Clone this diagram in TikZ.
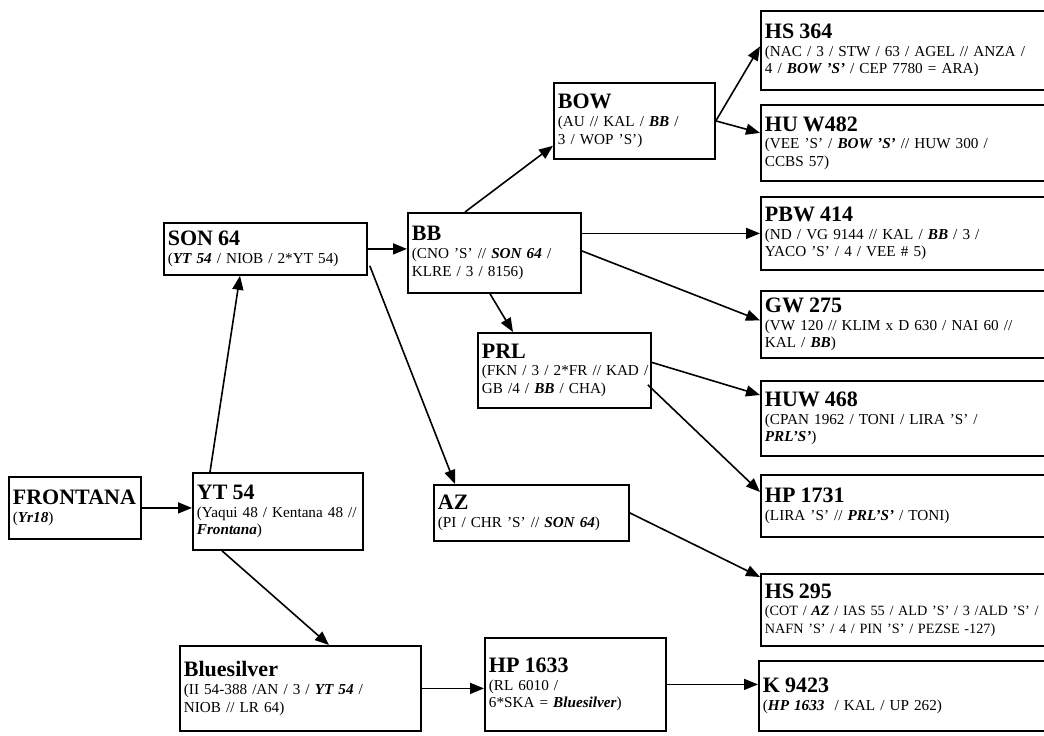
\documentclass[tikz,border=0pt]{standalone}
\usepackage{fontspec}
\setmainfont{Liberation Serif}[WordSpace=0.85]
\usetikzlibrary{arrows.meta,calc}

\newcommand{\gtitle}[1]{{\fontsize{11}{11}\selectfont\bfseries #1}}
\newcommand{\gb}[1]{\textbf{\textit{#1}}}

\tikzset{
  gbox/.style={draw, line width=0.9pt, anchor=north west, align=left,
    inner xsep=2pt, inner ysep=3pt, font=\fontsize{7.6}{8.8}\selectfont},
  garrow/.style={line width=0.8pt, -{Triangle[length=7pt,width=5.5pt]}},
}

\begin{document}
\begin{tikzpicture}[x=0.5pt, y=-0.5pt]
        \useasboundingbox (0,0) rectangle (1044,735);

        % left part
        \node[gbox, minimum width=66pt, minimum height=31pt, text width=62pt] (frontana) at (8,476)
                {\gtitle{FRONTANA}\\(\gb{Yr18})};
        \node[gbox, minimum width=85pt, minimum height=38.5pt, text width=81pt] (yt54) at (192,472)
                {\gtitle{YT 54}\\(Yaqui 48 / Kentana 48 //\\\gb{Frontana})};
        \node[gbox, minimum width=101.5pt, minimum height=26pt, text width=97.5pt] (son64) at (163,222)
                {\gtitle{SON 64}\\(\gb{YT 54} / NIOB / 2*YT 54)};
        \node[gbox, minimum width=120.5pt, minimum height=42.5pt, text width=116.5pt] (bluesilver) at (179,645)
                {\gtitle{Bluesilver}\\(II 54-388 /AN / 3 / \gb{YT 54} /\\NIOB // LR 64)};

        % middle part
        \node[gbox, minimum width=86.5pt, minimum height=40pt, text width=82.5pt] (bb) at (407,212)
                {\gtitle{BB}\\(CNO 'S' // \gb{SON 64} /\\KLRE / 3 / 8156)};
        \node[gbox, minimum width=80.5pt, minimum height=38pt, text width=76.5pt] (bow) at (553,82)
                {\gtitle{BOW}\\(AU // KAL / \gb{BB} /\\3 / WOP 'S')};
        \node[gbox, minimum width=86.5pt, minimum height=37.5pt, text width=82.5pt] (prl) at (477,332)
                {\gtitle{PRL}\\\mbox{(FKN / 3 / 2*FR // KAD /}\\GB /4 / \gb{BB} / CHA)};
        \node[gbox, minimum width=97.5pt, minimum height=28pt, text width=93.5pt] (az) at (433,484)
                {\gtitle{AZ}\\(PI / CHR 'S' // \gb{SON 64})};
        \node[gbox, minimum width=90.5pt, minimum height=46.5pt, text width=86.5pt] (hp1633) at (484,637)
                {\gtitle{HP 1633}\\(RL 6010 /\\6*SKA = \gb{Bluesilver})};

        % right column (cut off at the page edge)
        \node[gbox, minimum width=150pt, minimum height=39.5pt, text width=146pt] (hs364) at (760,10)
                {\gtitle{HS 364}\\(NAC / 3 / STW / 63 / AGEL // ANZA /\\4 / \gb{BOW 'S'} / CEP 7780 = ARA)};
        \node[gbox, minimum width=150pt, minimum height=38pt, text width=146pt] (huw482) at (760,104)
                {\gtitle{HU W482}\\(VEE 'S' / \gb{BOW 'S'} // HUW 300 /\\CCBS 57)};
        \node[gbox, minimum width=150pt, minimum height=36.5pt, text width=146pt] (pbw414) at (760,196)
                {\gtitle{PBW 414}\\(ND / VG 9144 // KAL / \gb{BB} / 3 /\\YACO 'S' / 4 / VEE \# 5)};
        \node[gbox, minimum width=150pt, minimum height=33.5pt, text width=146pt] (gw275) at (760,290)
                {\gtitle{GW 275}\\(VW 120 // KLIM x D 630 / NAI 60 //\\KAL / \gb{BB})};
        \node[gbox, minimum width=150pt, minimum height=37.5pt, text width=146pt] (huw468) at (760,380)
                {\gtitle{HUW 468}\\(CPAN 1962 / TONI / LIRA 'S' /\\\gb{PRL'S'})};
        \node[gbox, minimum width=150pt, minimum height=31pt, text width=146pt] (hp1731) at (760,474)
                {\gtitle{HP 1731}\\(LIRA 'S' // \gb{PRL'S'} / TONI)};
        \node[gbox, minimum width=150pt, minimum height=36pt, text width=146pt, font=\fontsize{7.1}{8.8}\selectfont] (hs295) at (760,573)
                {\gtitle{HS 295}\\\mbox{(COT / \gb{AZ} / IAS 55 / ALD 'S' / 3 /ALD 'S' /}\\NAFN 'S' / 4 / PIN 'S' / PEZSE -127)};
        \node[gbox, minimum width=150pt, minimum height=35pt, text width=146pt] (k9423) at (758,660)
                {\gtitle{K 9423}\\(\gb{HP 1633} \ / KAL / UP 262)};

        % connectors
        \draw[garrow] (frontana.east) -- (frontana.east -| yt54.west);
        \draw[garrow] ($(yt54.north west)+(18,0)$) -- ($(son64.south west)+(77,0)$);
        \draw[garrow] ($(yt54.south west)+(30,0)$) -- ($(bluesilver.north west)+(150,0)$);
        \draw[garrow] (son64.east) -- (son64.east -| bb.west);
        \draw[garrow] ($(son64.south east)+(2,-10)$) -- ($(az.north west)+(22,0)$);
        \draw[garrow] ($(bb.north west)+(58,0)$) -- ($(bow.south west)+(0,-14)$);
        \draw[garrow] (bb.east |- pbw414.west) -- (pbw414.west);
        \draw[garrow] ($(bb.east)+(0,-2)$) -- ($(gw275.west)+(0,-4)$);
        \draw[garrow] ($(bb.south west)+(83,0)$) -- ($(prl.north west)+(36,0)$);
        \draw[garrow] (bow.east) -- ($(hs364.west)+(0,-4)$);
        \draw[garrow] (bow.east) -- ($(huw482.west)+(0,-10)$);
        \draw[garrow] ($(prl.east)+(0,-8)$) -- ($(huw468.north west)+(0,15)$);
        \draw[garrow] ($(prl.south east)+(-4,-24)$) -- ($(hp1731.north west)+(0,18)$);
        \draw[garrow] (az.east) -- ($(hs295.north west)+(0,4)$);
        \draw[garrow] (bluesilver.east) -- (bluesilver.east -| hp1633.west);
        \draw[garrow] (hp1633.east) -- (hp1633.east -| k9423.west);
\end{tikzpicture}
\end{document}
